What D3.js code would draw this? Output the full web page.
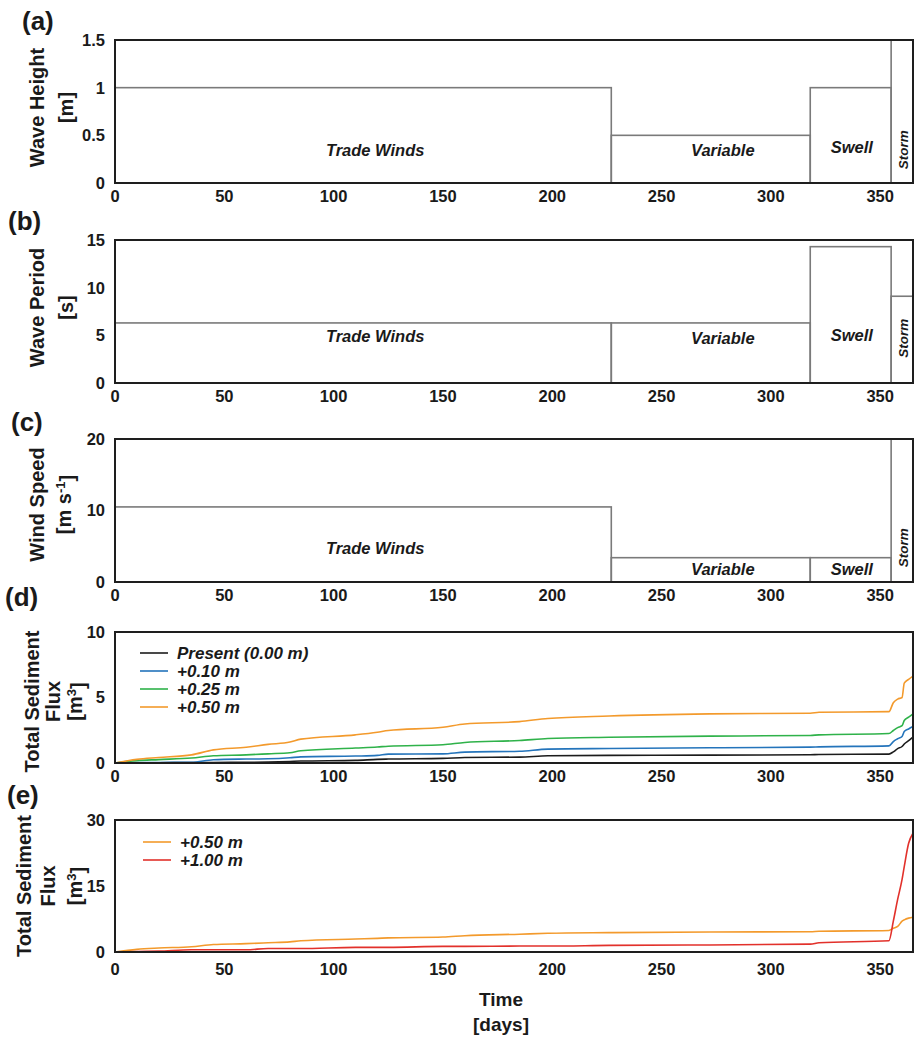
<!DOCTYPE html>
<html>
<head>
<meta charset="utf-8">
<script src="https://cdn.jsdelivr.net/npm/d3@7"></script>
<style>
  body { margin: 0; background: #fff; }
  svg text { font-family: "Liberation Sans", Arial, Helvetica, sans-serif; font-weight: bold; fill: #1a1a1a; }
</style>
</head>
<body>
<div id="chart"></div>
<script>
// regimes over the year
var regimes      = ["Trade Winds", "Variable", "Swell", "Storm"];
var regimeStart  = [0, 227, 318, 355];
var regimeEnd    = [227, 318, 355, 365];
var waveHeight   = [1, 0.5, 1, 1.5];
var wavePeriod   = [6.3, 6.3, 14.3, 9.1];
var windSpeed    = [10.5, 3.4, 3.4, 20];

// where the regime names sit (day, value) in each forcing panel
var labelDay     = [119, 278, 337, 360.5];
var labelHeight  = [0.35, 0.35, 0.38, 0.35];
var labelPeriod  = [4.9, 4.7, 5.0, 4.7];
var labelWind    = [4.8, 1.77, 1.77, 4.8];

// sediment flux
var days = [0, 10, 20, 35, 45, 60, 70, 80, 85, 110, 120, 125, 150, 160, 185, 198, 226, 272, 318, 322, 354, 356, 358, 360, 361, 363, 365];
var fluxPresent = [0, 0.01, 0.02, 0.03, 0.04, 0.05, 0.07, 0.12, 0.15, 0.2, 0.28, 0.3, 0.35, 0.42, 0.45, 0.55, 0.58, 0.6, 0.63, 0.65, 0.68, 0.85, 1.1, 1.26, 1.45, 1.7, 1.98];
var flux010 = [0, 0.03, 0.04, 0.06, 0.25, 0.3, 0.32, 0.4, 0.47, 0.53, 0.58, 0.68, 0.7, 0.83, 0.9, 1.06, 1.11, 1.16, 1.21, 1.23, 1.31, 1.64, 1.85, 2.02, 2.4, 2.6, 2.78];
var flux025 = [0, 0.18, 0.26, 0.38, 0.55, 0.62, 0.7, 0.78, 0.93, 1.14, 1.22, 1.28, 1.39, 1.57, 1.72, 1.87, 1.97, 2.05, 2.1, 2.15, 2.25, 2.48, 2.7, 2.85, 3.24, 3.5, 3.75];
var flux050 = [0, 0.28, 0.42, 0.62, 1.0, 1.2, 1.42, 1.6, 1.82, 2.15, 2.35, 2.48, 2.73, 2.98, 3.16, 3.4, 3.59, 3.75, 3.8, 3.87, 3.92, 4.6, 4.88, 5.0, 6.1, 6.38, 6.63];
var fluxE050 = [0, 0.6, 0.9, 1.2, 1.7, 1.9, 2.1, 2.3, 2.55, 2.95, 3.1, 3.2, 3.4, 3.7, 4.05, 4.25, 4.4, 4.55, 4.6, 4.7, 4.9, 5.4, 5.8, 7.0, 7.3, 7.7, 7.9];
var fluxE100 = [0, 0.1, 0.2, 0.5, 0.5, 0.5, 0.8, 0.8, 0.8, 1.05, 1.05, 1.05, 1.27, 1.27, 1.36, 1.36, 1.5, 1.6, 1.8, 2.1, 2.56, 7.0, 12.0, 16.5, 19.4, 24.7, 27];

var seriesNamesD = ["Present (0.00 m)", "+0.10 m", "+0.25 m", "+0.50 m"];
var seriesNamesE = ["+0.50 m", "+1.00 m"];

var xTicks = [0, 50, 100, 150, 200, 250, 300, 350];

var W = 917, H = 1037;
var left = 115, right = 913;

var svg = d3.select("#chart").append("svg")
    .attr("width", W)
    .attr("height", H);

var x = d3.scaleLinear().domain([0, 365]).range([left, right]);

var colors = {
    black: "#1c1c1c", blue: "#2474bb", green: "#2fb24a", orange: "#f39a2c", red: "#e2312b"
};

function makePanel(p) {
    var y = d3.scaleLinear().domain([0, p.max]).range([p.bottom, p.top]);
    var g = svg.append("g");

    // y ticks
    g.selectAll("text.ytick")
        .data(p.ticks)
        .enter().append("text")
        .attr("class", "ytick")
        .attr("x", 105)
        .attr("y", function(d) { return y(d); })
        .attr("dy", "0.36em")
        .attr("text-anchor", "end")
        .style("font-size", "16.5px")
        .text(function(d) { return d; });

    // x ticks
    g.selectAll("text.xtick")
        .data(xTicks)
        .enter().append("text")
        .attr("class", "xtick")
        .attr("x", function(d) { return x(d); })
        .attr("y", p.bottom + p.xOff)
        .attr("text-anchor", "middle")
        .style("font-size", "16.5px")
        .text(function(d) { return d; });

    // panel letter
    g.append("text")
        .attr("x", p.letterX)
        .attr("y", p.letterY)
        .style("font-size", "26px")
        .text(p.letter);

    // y label lines (rotated)
    var cy = (p.top + p.bottom) / 2 + p.labelShift;
    p.ylabel.forEach(function(t, i) {
        var tx = g.append("text")
            .attr("transform", "translate(" + p.labelX[i] + "," + cy + ") rotate(-90)")
            .attr("text-anchor", "middle")
            .attr("dy", "0.36em")
            .style("font-size", "20px");
        if (t.sup) {
            tx.append("tspan").text(t.text);
            tx.append("tspan").attr("dy", "-0.45em").style("font-size", "13px").text(t.sup);
            tx.append("tspan").attr("dy", "0.45em").text(t.after);
        } else {
            tx.text(t.text);
        }
    });

    return { g: g, y: y };
}

function forcingPanel(p, values, labelVals) {
    var panel = makePanel(p);
    var y = panel.y;
    panel.g.selectAll("rect.regime")
        .data(regimes)
        .enter().append("rect")
        .attr("class", "regime")
        .attr("x", function(d, i) { return x(regimeStart[i]); })
        .attr("width", function(d, i) { return x(regimeEnd[i]) - x(regimeStart[i]); })
        .attr("y", function(d, i) { return y(values[i]); })
        .attr("height", function(d, i) { return y(0) - y(values[i]); })
        .attr("fill", "none")
        .attr("stroke", "#7a7a7a")
        .attr("stroke-width", 1.6);

    panel.g.selectAll("text.rlabel")
        .data(regimes)
        .enter().append("text")
        .attr("class", "rlabel")
        .attr("transform", function(d, i) {
            var r = d === "Storm" ? " rotate(-90)" : "";
            return "translate(" + x(labelDay[i]) + "," + y(labelVals[i]) + ")" + r;
        })
        .attr("text-anchor", "middle")
        .attr("dy", "0.36em")
        .style("font-style", "italic")
        .style("font-size", function(d) { return d === "Storm" ? "13.5px" : "16.5px"; })
        .text(function(d) { return d; });

    frame(p);
}

function fluxPanel(p, series, names, cols, legendX, legendY) {
    var panel = makePanel(p);
    var y = panel.y;
    var line = d3.line()
        .x(function(d, i) { return x(days[i]); })
        .y(function(d) { return y(d); })
        .curve(d3.curveMonotoneX);

    panel.g.selectAll("path.flux")
        .data(series)
        .enter().append("path")
        .attr("class", "flux")
        .attr("d", line)
        .attr("fill", "none")
        .attr("stroke", function(d, i) { return cols[i]; })
        .attr("stroke-width", 1.6);

    var leg = panel.g.selectAll("g.leg")
        .data(names)
        .enter().append("g")
        .attr("class", "leg")
        .attr("transform", function(d, i) { return "translate(" + legendX + "," + (legendY + i * 18) + ")"; });
    leg.append("line")
        .attr("x1", 0).attr("x2", 28)
        .attr("stroke", function(d, i) { return cols[i]; })
        .attr("stroke-width", 1.6);
    leg.append("text")
        .attr("x", 37)
        .attr("dy", "0.36em")
        .style("font-style", "italic")
        .style("font-size", "17px")
        .text(function(d) { return d; });

    frame(p);
}

function frame(p) {
    svg.append("rect")
        .attr("x", left)
        .attr("y", p.top)
        .attr("width", right - left)
        .attr("height", p.bottom - p.top)
        .attr("fill", "none")
        .attr("stroke", "#1e1e1e")
        .attr("stroke-width", 2);
}

forcingPanel({
    top: 40, bottom: 183, max: 1.5, ticks: [0, 0.5, 1, 1.5], xOff: 19,
    letter: "(a)", letterX: 22, letterY: 30,
    ylabel: [{ text: "Wave Height" }, { text: "[m]" }], labelX: [37, 66], labelShift: -4
}, waveHeight, labelHeight);

forcingPanel({
    top: 240, bottom: 383, max: 15, ticks: [0, 5, 10, 15], xOff: 19,
    letter: "(b)", letterX: 8, letterY: 230,
    ylabel: [{ text: "Wave Period" }, { text: "[s]" }], labelX: [37, 66], labelShift: -4
}, wavePeriod, labelPeriod);

forcingPanel({
    top: 439, bottom: 582, max: 20, ticks: [0, 10, 20], xOff: 19,
    letter: "(c)", letterX: 11, letterY: 431,
    ylabel: [{ text: "Wind Speed" }, { text: "[m s", sup: "-1", after: "]" }], labelX: [37, 64], labelShift: -6
}, windSpeed, labelWind);

fluxPanel({
    top: 632, bottom: 763, max: 10, ticks: [0, 5, 10], xOff: 19,
    letter: "(d)", letterX: 5, letterY: 606,
    ylabel: [{ text: "Total Sediment" }, { text: "Flux" }, { text: "[m", sup: "3", after: "]" }], labelX: [32, 53, 75], labelShift: 4
}, [fluxPresent, flux010, flux025, flux050], seriesNamesD,
   [colors.black, colors.blue, colors.green, colors.orange], 140, 653);

fluxPanel({
    top: 820, bottom: 952, max: 30, ticks: [0, 15, 30], xOff: 23,
    letter: "(e)", letterX: 7, letterY: 804,
    ylabel: [{ text: "Total Sediment" }, { text: "Flux" }, { text: "[m", sup: "3", after: "]" }], labelX: [24, 48, 75], labelShift: 0
}, [fluxE050, fluxE100], seriesNamesE,
   [colors.orange, colors.red], 143, 842);

// shared x label
svg.append("text")
    .attr("x", 501).attr("y", 1006)
    .attr("text-anchor", "middle")
    .style("font-size", "19px")
    .text("Time");
svg.append("text")
    .attr("x", 501).attr("y", 1031)
    .attr("text-anchor", "middle")
    .style("font-size", "19px")
    .text("[days]");
</script>
</body>
</html>
